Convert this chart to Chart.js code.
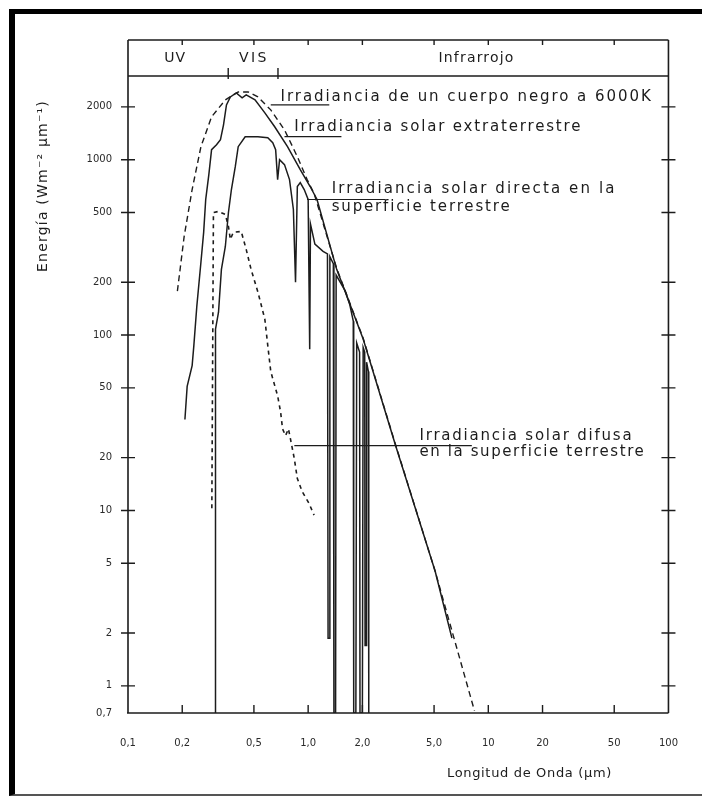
<!DOCTYPE html>
<html>
<head>
<meta charset="utf-8">
<script src="https://cdn.jsdelivr.net/npm/chart.js@4.4.1/dist/chart.umd.min.js"></script>
<style>
html, body { margin: 0; padding: 0; background: #fff; }
#wrap { position: relative; width: 702px; height: 796px; overflow: hidden; background: #fff; }
#wrap canvas { position: absolute; left: 0; top: 0; }
#frame { position: absolute; left: 9px; top: 9px; width: 700px; height: 780px;
  border-top: 5px solid #000; border-left: 6px solid #000; border-bottom: 2px solid #555; pointer-events: none; }
</style>
</head>
<body>
<div id="wrap">
  <canvas id="spectrum" width="702" height="796"></canvas>
  <div id="frame"></div>
</div>
<script>
// axis ticks (µm, W m-2 µm-1)
var wavelengthTicks  = [0.1, 0.2, 0.5, 1, 2, 5, 10, 20, 50, 100];
var wavelengthLabels = ["0,1", "0,2", "0,5", "1,0", "2,0", "5,0", "10", "20", "50", "100"];
var energyTicks  = [0.7, 1, 2, 5, 10, 20, 50, 100, 200, 500, 1000, 2000];
var energyLabels = ["0,7", "1", "2", "5", "10", "20", "50", "100", "200", "500", "1000", "2000"];

// cuerpo negro a 6000K (dashed)
var blackbodyWl = [0.188, 0.205, 0.227, 0.254, 0.291, 0.347, 0.409, 0.464, 0.526, 0.620, 0.739, 0.871, 0.987, 1.08, 1.44, 2.02, 3.06, 5.07, 8.38];
var blackbodyE  = [178, 365, 676, 1186, 1755, 2193, 2433, 2433, 2280, 1923, 1480, 1040, 770, 640, 240, 96, 23.6, 4.5, 0.72];

// extraterrestre (solid)
var extraWl = [0.207, 0.213, 0.227, 0.232, 0.241, 0.254, 0.263, 0.270, 0.281, 0.291, 0.310, 0.326, 0.339, 0.352, 0.370, 0.399, 0.430, 0.453, 0.507, 0.575, 0.652, 0.768, 0.904, 1.026, 1.12, 1.44, 2.02, 3.06, 5.07, 6.28];
var extraE  = [33, 51, 67, 87, 146, 260, 385, 593, 822, 1140, 1217, 1300, 1580, 2054, 2280, 2403, 2250, 2340, 2193, 1849, 1540, 1186, 877, 703, 593, 237, 95, 23.4, 4.5, 1.87];

// directa en la superficie (solid, absorption bands)
var directWl = [0.306, 0.306, 0.318, 0.330, 0.347, 0.361, 0.375, 0.394, 0.409, 0.447, 0.526, 0.597, 0.636, 0.660, 0.677, 0.694, 0.739, 0.788, 0.828, 0.851, 0.871, 0.904, 0.951, 1.0,
                1.02, 1.03, 1.09, 1.21, 1.28, 1.29, 1.31, 1.32, 1.38, 1.39, 1.42, 1.43, 1.60, 1.70, 1.78, 1.79, 1.84, 1.86, 1.93, 1.94, 2.0, 2.02, 2.06, 2.07, 2.10, 2.11, 2.16, 2.17];
var directE  = [0.7, 108, 135, 237, 320, 500, 676, 912, 1186, 1352, 1352, 1334, 1250, 1140, 770, 1000, 937, 770, 520, 200, 703, 740, 676, 593,
                83, 430, 330, 300, 290, 1.87, 1.87, 280, 255, 0.7, 0.7, 220, 180, 150, 120, 0.7, 0.7, 90, 80, 0.7, 0.7, 85, 80, 1.7, 1.7, 70, 62, 0.7];

// difusa en la superficie (dashed)
var diffuseWl = [0.292, 0.298, 0.318, 0.347, 0.361, 0.370, 0.384, 0.425, 0.453, 0.482, 0.526, 0.575, 0.597, 0.620, 0.677, 0.703, 0.721, 0.749, 0.777, 0.797, 0.838, 0.871, 0.927, 1.01, 1.079];
var diffuseE  = [10.3, 500, 507, 487, 416, 351, 385, 390, 308, 237, 176, 123, 87, 62, 45, 36.5, 29.2, 26.7, 29.2, 25.7, 19.7, 15.2, 12.8, 11.0, 9.4];

// label leaders: [wl start, wl end, energy]
var leaderBlackbody = [0.62, 1.31, 2054];
var leaderExtra     = [0.739, 1.53, 1352];
var leaderDirect    = [0.987, 2.69, 593];
var leaderDiffuse   = [0.838, 8.1, 23.4];

var INK = "#1c1c1c";
var FONT = "'DejaVu Sans', 'Liberation Sans', sans-serif";
var BAND_HEIGHT = 36;

function pts(xs, ys) {
  return xs.map(function(v, i) { return { x: v, y: ys[i] }; });
}
function leader(l) {
  return [{ x: l[0], y: l[2] }, { x: l[1], y: l[2] }];
}
function curve(data, dash, width) {
  return {
    data: data, borderColor: INK, borderWidth: width || 1.5, borderDash: dash || [],
    pointRadius: 0, tension: 0, fill: false
  };
}

// annotation text, anchored in data units (left edge, vertical centre)
var notes = [
  { text: "Irradiancia de un cuerpo negro a 6000K", wl: 0.703, e: 2280, w: 372 },
  { text: "Irradiancia solar extraterrestre", wl: 0.838, e: 1540, w: 288 },
  { text: "Irradiancia solar directa en la", wl: 1.35, e: 676, w: 285 },
  { text: "superficie terrestre", wl: 1.35, e: 533, w: 180 },
  { text: "Irradiancia solar difusa", wl: 4.15, e: 26.7, w: 214 },
  { text: "en la superficie terrestre", wl: 4.15, e: 21.6, w: 226 }
];
var bandNotes = [
  { text: "UV", wl: 0.183, w: 22 },
  { text: "VIS", wl: 0.50, w: 30 },
  { text: "Infrarrojo", wl: 8.6, w: 76 }
];
var visEdges = [0.36, 0.68];

function spaced(ctx, str, x, y, width, size) {
  ctx.font = size + "px " + FONT;
  if ("letterSpacing" in ctx) ctx.letterSpacing = "0px";
  var natural = ctx.measureText(str).width;
  var sp = Math.max(0, (width - natural) / Math.max(1, str.length));
  if ("letterSpacing" in ctx) ctx.letterSpacing = sp.toFixed(2) + "px";
  ctx.textAlign = "left";
  ctx.textBaseline = "middle";
  ctx.fillText(str, x, y);
  if ("letterSpacing" in ctx) ctx.letterSpacing = "0px";
}

var paperPlugin = {
  id: "paper",
  afterDraw: function(chart) {
    var ctx = chart.ctx, a = chart.chartArea, xs = chart.scales.x, ys = chart.scales.y;
    var bandTop = a.top - BAND_HEIGHT;
    function seg(x1, y1, x2, y2) { ctx.moveTo(x1, y1); ctx.lineTo(x2, y2); }
    ctx.save();
    ctx.strokeStyle = INK;
    ctx.lineWidth = 1.6;
    ctx.beginPath();
    seg(a.left, bandTop, a.left, a.bottom);
    seg(a.left - 1, a.bottom, a.right, a.bottom);
    seg(a.right, a.bottom, a.right, bandTop);
    seg(a.left, bandTop, a.right, bandTop);
    seg(a.left, a.top, a.right, a.top);
    ctx.stroke();

    ctx.lineWidth = 1.4;
    ctx.beginPath();
    energyTicks.forEach(function(v) {
      if (v < 1) return;
      var py = ys.getPixelForValue(v);
      seg(a.left - 7, py, a.left + 7, py);
      seg(a.right - 7, py, a.right + 7, py);
    });
    wavelengthTicks.forEach(function(v) {
      if (v <= 0.1 || v >= 100) return;
      var px = xs.getPixelForValue(v);
      seg(px, a.bottom, px, a.bottom - 8);
      seg(px, bandTop, px, bandTop + 5);
    });
    visEdges.forEach(function(v) {
      var px = xs.getPixelForValue(v);
      seg(px, a.top - 8, px, a.top + 3);
    });
    ctx.stroke();

    ctx.fillStyle = INK;
    bandNotes.forEach(function(n) {
      spaced(ctx, n.text, xs.getPixelForValue(n.wl) - n.w / 2, (bandTop + a.top) / 2, n.w, 14);
    });
    notes.forEach(function(n) {
      spaced(ctx, n.text, xs.getPixelForValue(n.wl), ys.getPixelForValue(n.e), n.w, 15);
    });

    // axis titles
    spaced(ctx, "Longitud de Onda (µm)", 447, 774, 165, 13);
    ctx.save();
    ctx.translate(43, 272);
    ctx.rotate(-Math.PI / 2);
    spaced(ctx, "Energía (Wm⁻² µm⁻¹)", 0, 0, 172, 14);
    ctx.restore();
    ctx.restore();
  }
};

new Chart(document.getElementById("spectrum"), {
  type: "line",
  data: {
    datasets: [
      curve(pts(blackbodyWl, blackbodyE), [6, 4], 1.4),
      curve(pts(extraWl, extraE), [], 1.5),
      curve(pts(directWl, directE), [], 1.5),
      curve(pts(diffuseWl, diffuseE), [4, 4], 1.6),
      curve(leader(leaderBlackbody), [], 1.2),
      curve(leader(leaderExtra), [], 1.2),
      curve(leader(leaderDirect), [], 1.2),
      curve(leader(leaderDiffuse), [], 1.2)
    ]
  },
  options: {
    responsive: false,
    animation: false,
    events: [],
    layout: { padding: { left: 0, top: 76, right: 27, bottom: 0 } },
    plugins: { legend: { display: false }, tooltip: { enabled: false } },
    scales: {
      x: {
        type: "logarithmic", min: 0.1, max: 100,
        afterBuildTicks: function(s) { s.ticks = wavelengthTicks.map(function(v) { return { value: v }; }); },
        afterFit: function(s) { s.height = 83; },
        grid: { display: false, drawTicks: false },
        border: { display: false },
        ticks: {
          autoSkip: false, maxRotation: 0, padding: 24, color: "#2a2a2a",
          font: { family: FONT, size: 10 },
          callback: function(v) { return wavelengthLabels[wavelengthTicks.indexOf(v)]; }
        }
      },
      y: {
        type: "logarithmic", min: 0.7, max: 3000,
        afterBuildTicks: function(s) { s.ticks = energyTicks.map(function(v) { return { value: v }; }); },
        afterFit: function(s) { s.width = 128; },
        grid: { display: false, drawTicks: false },
        border: { display: false },
        ticks: {
          autoSkip: false, padding: 16, color: "#2a2a2a",
          font: { family: FONT, size: 10 },
          callback: function(v) { return energyLabels[energyTicks.indexOf(v)]; }
        }
      }
    }
  },
  plugins: [paperPlugin]
});
</script>
</body>
</html>
